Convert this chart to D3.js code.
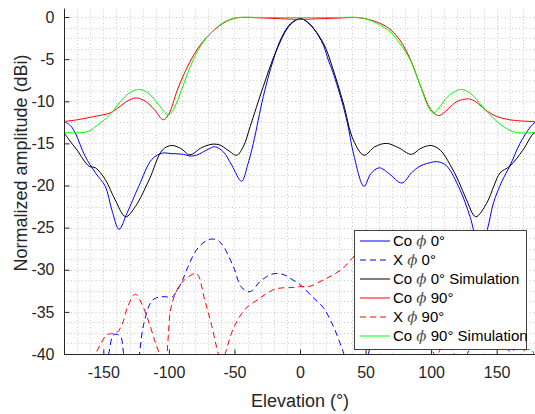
<!DOCTYPE html>
<html><head><meta charset="utf-8">
<script src="https://cdn.jsdelivr.net/npm/d3@7"></script>
<style>body{margin:0;background:#fff} svg{display:block}</style>
</head><body><svg id="c" width="535" height="414"></svg>
<script>
// ---- data ----
const xTicks = [-150,-100,-50,0,50,100,150];
const yTicks = [0,-5,-10,-15,-20,-25,-30,-35,-40];

const coPhi0Ang = [-180,-175,-171,-164,-156,-148.5,-143.5,-138,-132,-123,-113,-105,-99,-89,-84,-79,-70,-65,-58.5,-52,-44.5,-40,-35.6,-28,-20.4,-14,-7,0.5,7,14,18,22,25,33,37,40.7,48.8,54,60.5,68,77.6,85,91.5,101.7,106,112,122,129.7,137,142.9,147.5,154,160,167.8,176,180];
const coPhi0Val = [-12.4,-12.9,-13.9,-16.5,-18.5,-20.1,-22.9,-25.2,-23.3,-20.1,-16.9,-16.15,-16.2,-16.3,-16.5,-16.4,-15.7,-15.4,-16.0,-17.6,-19.5,-17.6,-15.0,-9.45,-5.1,-2.4,-0.75,-0.2,-0.75,-2.2,-3.4,-5.3,-6.5,-10.6,-13.2,-16.15,-20.1,-18.6,-17.9,-18.6,-19.7,-18.5,-17.7,-17.2,-17.2,-17.7,-20.5,-23.7,-27.5,-25.2,-22.1,-19.5,-17.7,-15.0,-13.0,-12.4];

const xPhi0Ang = [-180,-160,-150,-146,-142,-137,-134.5,-130,-126,-122.5,-119.3,-113,-107.8,-103,-97.6,-94,-90,-86.4,-78.8,-72,-67,-62,-58.5,-50.9,-44.5,-38.1,-30.5,-24,-19,-12,-7.6,0,2.5,10,17.8,25.4,31.8,34,40,46,52,60,75,90,105,118,124,130,140,152,161,168,180];
const xPhi0Val = [-52,-46,-42,-40,-37.7,-37.9,-40,-43,-43,-40,-36.5,-33.7,-33.25,-33.2,-33.25,-32.5,-31.4,-30.0,-27.6,-26.6,-26.35,-26.6,-27.2,-29.6,-32.1,-32.6,-31.4,-30.7,-30.45,-30.6,-31.0,-31.75,-32.1,-33.3,-34.5,-36.7,-39.25,-40.2,-42,-42,-40,-35,-31,-33,-37,-40,-41,-39,-35,-38,-40,-42,-46];

const coPhi0SimAng = [-180,-176,-170,-161,-156,-148.5,-141,-133,-125.6,-115,-105,-98,-91,-84,-75,-67,-61,-55,-48.3,-43,-38,-28,-17.8,-7.6,0.5,7.6,17.8,25.4,33,40.7,48.8,57,66,75,85,92,100,107,114.4,121,127,134,142.4,148,152.6,160,170,177.6,180];
const coPhi0SimVal = [-13.7,-14.6,-15.8,-17.7,-17.9,-19.3,-21.7,-23.7,-22.5,-19.3,-15.8,-15.25,-15.6,-16.35,-15.5,-15.1,-15.2,-15.8,-16.4,-15.3,-13.0,-8.25,-3.9,-0.95,-0.2,-0.9,-3.1,-6.3,-10.2,-14.6,-16.4,-15.4,-15.0,-15.5,-16.3,-15.6,-15.25,-15.8,-17.5,-19.5,-21.7,-23.7,-22.1,-20.0,-18.5,-17.7,-15.8,-13.9,-13.7];

const coPhi90Ang = [-180,-170,-160,-150,-145,-138,-132,-125,-118,-111,-104.3,-100,-94,-88,-81.4,-75,-68.6,-62,-56,-50,-45,-30,-15,0,15,30,40,48,57,66,71,76,81,86.5,90,94,99,105.5,111,118,124,130,136,143,150,160,170,180];
const coPhi90Val = [-12.4,-12.2,-11.9,-11.6,-11.4,-10.7,-10.0,-9.6,-10.0,-11.0,-12.2,-11.5,-8.85,-6.6,-4.6,-3.1,-2.0,-1.1,-0.5,-0.15,-0.05,-0.1,-0.2,-0.27,-0.2,-0.12,-0.05,-0.15,-0.5,-1.15,-1.8,-2.7,-4.0,-5.9,-7.4,-9.0,-10.8,-11.7,-11.2,-10.2,-9.8,-9.75,-10.3,-11.2,-11.8,-12.2,-12.35,-12.4];

const xPhi90Ang = [-180,-168,-160,-156,-152,-147,-140,-136,-131,-125.6,-120.5,-114,-110,-106,-103.5,-102,-100.5,-99,-96,-92,-86.4,-79,-72.5,-67.4,-62.3,-60,-57.2,-50.9,-42,-31.8,-19,-5,0,7.6,17.8,25.4,33,37.6,45,55,70,85,97,104,110,122,135,150,160,166,172,177,180];
const xPhi90Val = [-47,-44,-41,-40,-38.8,-37.7,-37.5,-36.6,-34.2,-32.9,-34.1,-36.8,-38.8,-40.3,-41,-40.5,-38,-35,-33.2,-31.9,-31.0,-30.45,-33.7,-36.6,-40,-41,-40,-37.0,-34.7,-33.5,-32.3,-32.1,-32.0,-31.95,-31.2,-30.6,-29.8,-29.0,-28,-28.5,-30.5,-34,-38,-40.2,-38,-33,-32,-35,-38.5,-40.2,-39.5,-39.6,-41];

const coPhi90SimAng = [-180,-170,-162,-155,-145,-138,-130,-123,-116,-108,-100.5,-96,-90,-84,-78,-72,-66,-60,-53,-46,-30,0,30,44,50,58,68.6,76,84,89,93,97,101.7,106,113,123,131,140,147.5,155,165,180];
const coPhi90SimVal = [-13.7,-13.75,-13.6,-12.9,-11.6,-10.2,-9.0,-8.6,-9.0,-10.4,-11.6,-10.8,-8.5,-6.0,-4.0,-2.6,-1.6,-0.8,-0.25,-0.05,-0.05,-0.08,-0.05,-0.05,-0.2,-0.7,-1.75,-3.1,-5.1,-7.0,-8.65,-10.4,-11.4,-10.8,-9.4,-8.6,-9.2,-10.8,-12.0,-13.0,-13.7,-13.7];

const seriesNames = ["Co ϕ 0°","X ϕ 0°","Co ϕ 0° Simulation","Co ϕ 90°","X ϕ 90°","Co ϕ 90° Simulation"];
const seriesColors = ["#0000ff","#0000ff","#000000","#ff0000","#ff0000","#00ff00"];
const seriesDashed = [false,true,false,false,true,false];

const series = [
  {ang: coPhi0Ang, val: coPhi0Val},
  {ang: xPhi0Ang, val: xPhi0Val},
  {ang: coPhi0SimAng, val: coPhi0SimVal},
  {ang: coPhi90Ang, val: coPhi90Val},
  {ang: xPhi90Ang, val: xPhi90Val},
  {ang: coPhi90SimAng, val: coPhi90SimVal}
];

// ---- chart ----
const svg = d3.select("#c");
const L = 64, R = 536, T = 8.6, B = 354;
const x = d3.scaleLinear().domain([-180,180]).range([L,R]);
const y = d3.scaleLinear().domain([-40,1]).range([B,T]);
const font = "'Liberation Sans', Arial, Helvetica, sans-serif";
const axisCol = "#262626";

// grid (dotted, major + minor)
const g = svg.append("g");
d3.range(-170,180,10).forEach(v=>{
  g.append("line").attr("x1",Math.round(x(v))+0.5).attr("x2",Math.round(x(v))+0.5)
   .attr("y1",T).attr("y2",B).attr("stroke","#c8c8c8").attr("stroke-width",1).attr("stroke-dasharray","1,2.5");
});
d3.range(0,33).forEach(i=>{
  const v = -40 + i*1.25;
  if (v <= -40) return;
  g.append("line").attr("x1",L).attr("x2",R).attr("y1",Math.round(y(v))+0.5).attr("y2",Math.round(y(v))+0.5)
   .attr("stroke","#c8c8c8").attr("stroke-width",1).attr("stroke-dasharray","1,2.5");
});

// clip
svg.append("clipPath").attr("id","clip").append("rect").attr("x",L).attr("y",T).attr("width",R-L).attr("height",B-T);

const line = d3.line().x(d=>x(d[0])).y(d=>y(d[1])).curve(d3.curveCatmullRom.alpha(0.5));
const lg = svg.append("g").attr("clip-path","url(#clip)");
series.forEach((s,i)=>{
  const pts = s.ang.map((a,k)=>[a,s.val[k]]);
  lg.append("path").attr("d",line(pts)).attr("fill","none")
    .attr("stroke",seriesColors[i]).attr("stroke-width",1)
    .attr("stroke-dasharray",seriesDashed[i]?"6,4":null);
});

// axes
const xAxis = d3.axisBottom(x).tickValues(xTicks).tickSize(-5).tickPadding(12).tickFormat(d=>d);
const yAxis = d3.axisLeft(y).tickValues(yTicks).tickSize(-5).tickPadding(10).tickFormat(d=>d);
const xa = svg.append("g").attr("transform",`translate(0,${B+0.5})`).call(xAxis);
const ya = svg.append("g").attr("transform",`translate(${L+0.5},0)`).call(yAxis);
[xa,ya].forEach(a=>{
  a.select(".domain").attr("stroke",axisCol);
  a.selectAll(".tick line").attr("stroke",axisCol);
  a.selectAll("text").attr("fill",axisCol).style("font-family",font).style("font-size","16px");
});
xa.select(".domain").attr("d",`M${L},0H${R}`);
ya.select(".domain").attr("d",`M0,${T}V${B}`);

// axis labels
svg.append("text").attr("x",300).attr("y",407).attr("text-anchor","middle")
  .style("font-family",font).style("font-size","18px").attr("fill",axisCol).text("Elevation (°)");
svg.append("text").attr("transform","translate(27,163) rotate(-90)").attr("text-anchor","middle")
  .style("font-family",font).style("font-size","18px").attr("fill",axisCol).text("Normalized amplitude (dBi)");

// legend
const lgX = 354, lgY = 230, lgW = 172, lgH = 119;
const leg = svg.append("g");
leg.append("rect").attr("x",lgX+0.5).attr("y",lgY+0.5).attr("width",lgW).attr("height",lgH)
  .attr("fill","#fff").attr("stroke","#404040").attr("stroke-width",1);
seriesNames.forEach((name,i)=>{
  const cy = lgY + 11 + i*19;
  leg.append("line").attr("x1",lgX+6).attr("x2",lgX+36).attr("y1",cy).attr("y2",cy)
    .attr("stroke",seriesColors[i]).attr("stroke-width",1).attr("stroke-dasharray",seriesDashed[i]?"6,4":null);
  const parts = name.split("ϕ");
  const t = leg.append("text").attr("x",lgX+39).attr("y",cy+5).style("font-family",font)
    .style("font-size","15px").attr("fill","#000");
  t.append("tspan").text(parts[0]);
  t.append("tspan").style("font-style","italic").style("font-family","'DejaVu Serif', serif").attr("fill","#555").text("ϕ");
  t.append("tspan").text(parts[1]);
});
</script></body></html>
